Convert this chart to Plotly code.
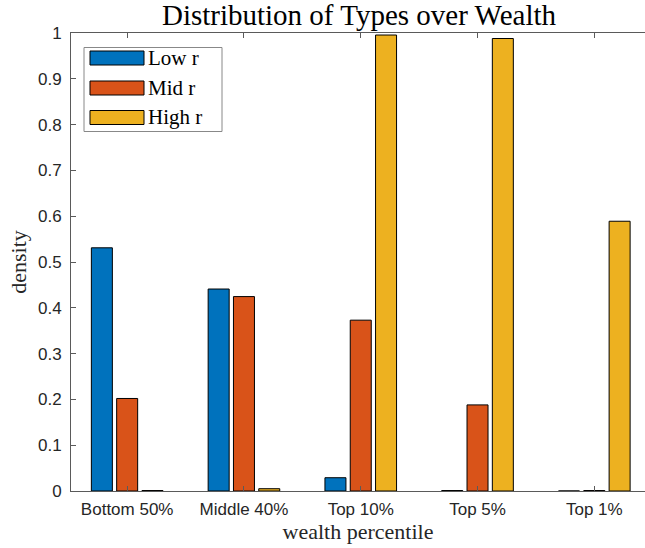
import plotly.graph_objects as go

categories = ["Bottom 50%", "Middle 40%", "Top 10%", "Top 5%", "Top 1%"]
low_r = [0.531, 0.441, 0.029, 0.001, 0.0]
mid_r = [0.202, 0.4245, 0.373, 0.188, 0.001]
high_r = [0.001, 0.005, 0.9956, 0.988, 0.589]
series_names = ["Low r", "Mid r", "High r"]
colors = ["#0072BD", "#D95319", "#EDB120"]
y_ticks = [0, 0.1, 0.2, 0.3, 0.4, 0.5, 0.6, 0.7, 0.8, 0.9, 1]
y_tick_labels = ["0", "0.1", "0.2", "0.3", "0.4", "0.5", "0.6", "0.7", "0.8", "0.9", "1"]

W, H = 645, 548
ML, MR, MT, MB = 71, 0, 33, 57
x_pos = list(range(1, len(categories) + 1))

fig = go.Figure()
for name, vals, col in zip(series_names, [low_r, mid_r, high_r], colors):
    fig.add_trace(go.Bar(
        x=x_pos, y=vals, name=name,
        marker=dict(color=col, line=dict(color="black", width=1)),
        showlegend=False,
    ))

serif = "Liberation Serif"
sans = "Liberation Sans"
axcol = "#5a5a5a"

fig.update_layout(
    width=W, height=H,
    margin=dict(l=ML, r=MR, t=MT, b=MB),
    paper_bgcolor="white", plot_bgcolor="white",
    barmode="group", bargap=0.35, bargroupgap=0.17,
    title=dict(text="Distribution of Types over Wealth", x=359 / W, xanchor="center",
               y=1 - 15 / H, yanchor="middle",
               font=dict(family=serif, size=29, color="black")),
    xaxis=dict(
        range=[0.519, 5.434], tickmode="array", tickvals=x_pos, ticktext=categories,
        ticks="inside", ticklen=5, tickcolor=axcol, showline=True, linecolor=axcol,
        linewidth=1, mirror="ticks", showgrid=False, zeroline=False,
        ticklabelstandoff=3,
        tickfont=dict(family=sans, size=17, color="#262626"),
        title=dict(text="wealth percentile", standoff=0,
                   font=dict(family=serif, size=22, color="#262626")),
    ),
    yaxis=dict(
        range=[0, 1], tickmode="array", tickvals=y_ticks, ticktext=y_tick_labels,
        ticks="inside", ticklen=5, tickcolor=axcol, showline=True, linecolor=axcol,
        linewidth=1, mirror=False, showgrid=False, zeroline=False,
        ticklabelstandoff=5,
        tickfont=dict(family=sans, size=17, color="#262626"),
        title=dict(text="density", standoff=5,
                   font=dict(family=serif, size=22, color="#262626")),
    ),
)

# custom legend (MATLAB style) in paper coordinates (pixel helpers)
pw = W - ML - MR
ph = H - MT - MB
def px(x):
    return (x - ML) / pw
def py(y):
    return (H - MB - y) / ph

fig.add_shape(type="rect", xref="paper", yref="paper",
              x0=px(84), x1=px(222), y0=py(47.5), y1=py(131.5),
              line=dict(color="#888888", width=1), fillcolor="white")
row_y = [58, 88, 117.5]
for name, col, ry in zip(series_names, colors, row_y):
    fig.add_shape(type="rect", xref="paper", yref="paper",
                  x0=px(90), x1=px(144), y0=py(ry - 7), y1=py(ry + 7),
                  line=dict(color="black", width=1), fillcolor=col)
    fig.add_annotation(text=name, xref="paper", yref="paper",
                       x=px(146), y=py(ry), xanchor="left", yanchor="middle",
                       showarrow=False, font=dict(family=serif, size=21, color="black"))

fig.write_html("out.html", config={"displayModeBar": False},
               post_script="document.body.style.margin='0';document.body.style.padding='0';")
